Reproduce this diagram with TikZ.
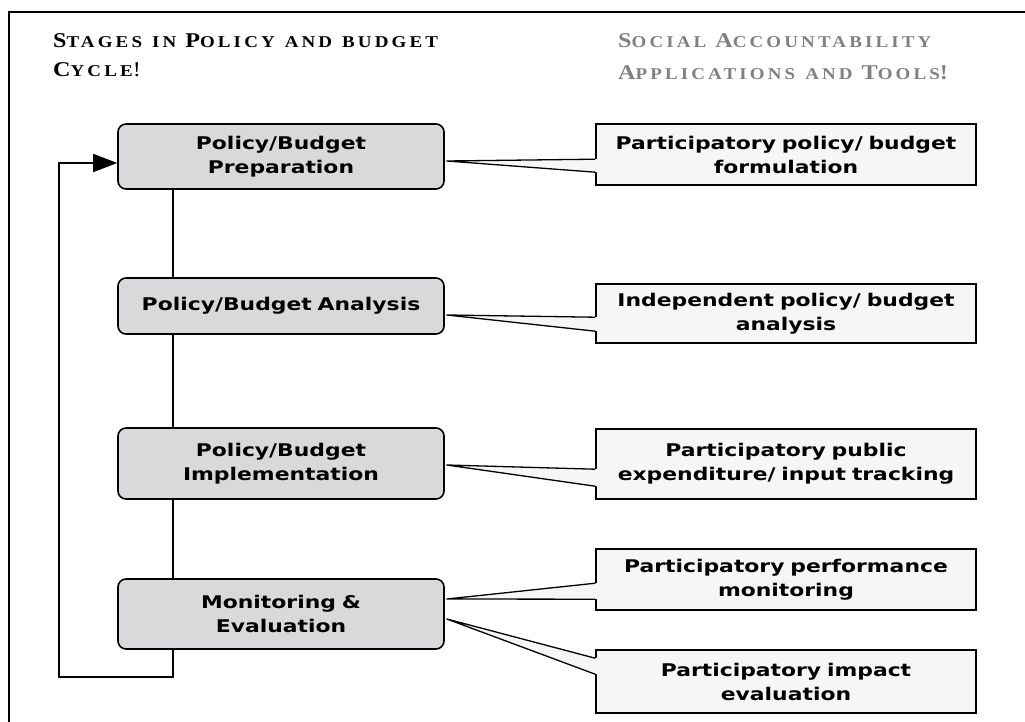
\documentclass[tikz,border=0pt]{standalone}
\usepackage{fontspec}
\usepackage{tikz}
\usetikzlibrary{calc}
\usetikzlibrary{arrows.meta}
\newfontfamily\boxfont{DejaVu Sans}[FakeStretch=1.25]
\newfontfamily\headfont{Liberation Serif}[FakeStretch=1.15]
\definecolor{stage-grey}{RGB}{217,217,219}
\definecolor{tool-grey}{RGB}{246,246,246}
\definecolor{head-grey}{RGB}{128,128,128}
\newcommand{\smallcap}[1]{{\fontsize{16.5}{29}\selectfont\addfontfeature{LetterSpace=19}\spaceskip 10pt\relax #1}}
\newcommand{\headsize}[1]{\fontsize{21}{#1}\selectfont\spaceskip 9pt\relax}

\tikzset{
  stagebox/.style={draw, line width=1.6pt, rounded corners=8pt, fill=stage-grey,
    text width=310pt, inner xsep=8pt, inner ysep=0pt, align=center,
    font=\boxfont\bfseries\fontsize{17.5}{24}\selectfont},
  toolbox/.style={draw, line width=1.6pt, fill=tool-grey,
    text width=364pt, inner xsep=8pt, inner ysep=0pt, align=center,
    font=\boxfont\bfseries\fontsize{17.5}{24}\selectfont},
  heading/.style={anchor=north west, align=left, inner sep=0pt,
    font=\headfont\bfseries\headsize{29}},
}

\begin{document}
\begin{tikzpicture}[x=1pt, y=-1pt]
\useasboundingbox (0,0) rectangle (1025,722);
\draw [line width=1.6pt] (9,722) -- (9,12) -- (1025,12);

% headings
\node [heading] (hstage) at (53,33) {S\smallcap{TAGES IN} P\smallcap{OLICY AND BUDGET}\\C\smallcap{YCLE}{\mdseries !}};
\node [heading, text=head-grey, font=\headfont\bfseries\headsize{32}] (htool) at (618,33) {S\smallcap{OCIAL} A\smallcap{CCOUNTABILITY}\\A\smallcap{PPLICATIONS AND} T\smallcap{OOLS}!};

% stages of the cycle
\node [stagebox, minimum height=65pt] (prep) at (281,156.5) {Policy/Budget\\Preparation};
\node [stagebox, minimum height=56pt] (anal) at (281,306) {Policy/Budget Analysis};
\node [stagebox, minimum height=71pt] (impl) at (281,463.5) {Policy/Budget\\Implementation};
\node [stagebox, minimum height=70pt] (moni) at (281,614) {Monitoring \&\\Evaluation};

% tools
\node [toolbox, minimum height=61pt] (form) at (786,154.5) {Participatory policy/ budget\\formulation};
\node [toolbox, minimum height=59pt] (indep) at (786,313.5) {Independent policy/ budget\\analysis};
\node [toolbox, minimum height=70pt] (track) at (786,464) {Participatory public\\expenditure/ input tracking};
\node [toolbox, minimum height=61pt] (perf) at (786,579.5) {Participatory performance\\monitoring};
\node [toolbox, minimum height=63pt] (impact) at (786,681.5) {Participatory impact\\evaluation};

\coordinate (spine) at (173,0);
\coordinate (back) at (59,163);
\draw [line width=1.6pt] (prep.south -| spine) -- (anal.north -| spine);
\draw [line width=1.6pt] (anal.south -| spine) -- (impl.north -| spine);
\draw [line width=1.6pt] (impl.south -| spine) -- (moni.north -| spine);
\draw [line width=1.6pt, -{Triangle[length=24pt,width=18pt]}] (moni.south -| spine) -- ++(0,27) -| (back) -- ($(prep.west)+(0,6.5)$);

% callout pointers
\foreach \src/\dst/\dy/\ya/\yb in {prep/form/4.5/36/49, anal/indep/9/34/48, impl/track/1.5/41/58, moni/perf/-15/35/51, moni/impact/5/9/25}{
  \coordinate (tip) at ($(\src.east)+(2,\dy)$);
  \fill [tool-grey] (tip) -- ($(\dst.north west)+(1.6,\ya)$) -- ($(\dst.north west)+(1.6,\yb)$) -- cycle;
  \draw [line width=1.3pt, line join=round] ($(\dst.north west)+(0,\ya)$) -- (tip) -- ($(\dst.north west)+(0,\yb)$);
}
\end{tikzpicture}
\end{document}
